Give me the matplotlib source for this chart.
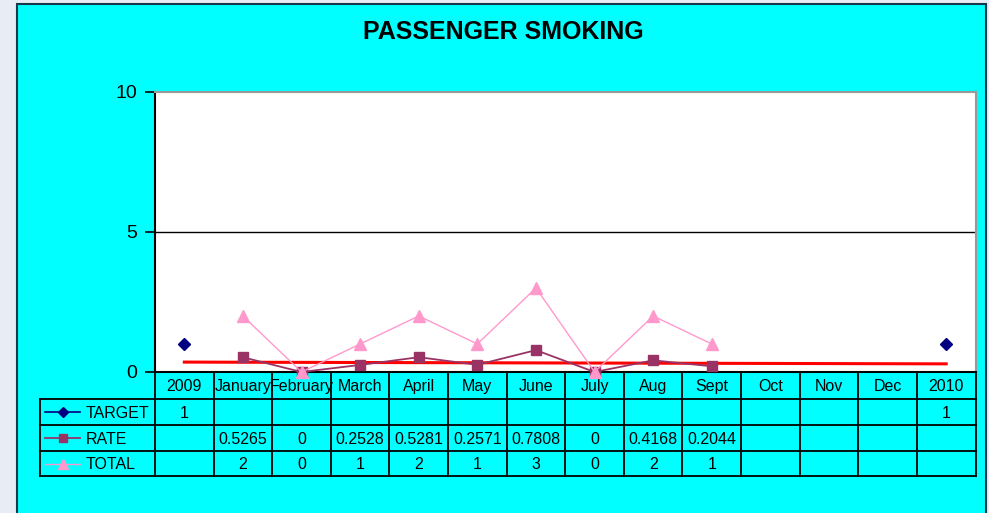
import matplotlib.pyplot as plt
from matplotlib.patches import Rectangle
import numpy as np

plt.rcParams['font.family'] = ['Liberation Sans', 'DejaVu Sans']

# data
columns = ['2009', 'January', 'February', 'March', 'April', 'May', 'June',
           'July', 'Aug', 'Sept', 'Oct', 'Nov', 'Dec', '2010']
target = [1, None, None, None, None, None, None, None, None, None, None, None, None, 1]
rate = [None, 0.5265, 0, 0.2528, 0.5281, 0.2571, 0.7808, 0, 0.4168, 0.2044,
        None, None, None, None]
total = [None, 2, 0, 1, 2, 1, 3, 0, 2, 1, None, None, None, None]
series_names = ['TARGET', 'RATE', 'TOTAL']
y_ticks = [0, 5, 10]

W, H = 989, 513
fig = plt.figure(figsize=(W / 100, H / 100), dpi=100)
fig.patch.set_facecolor('#e8ecf4')

# overlay in pixel coords for frame + table
bg = fig.add_axes([0, 0, 1, 1], zorder=0)
bg.set_xlim(0, W)
bg.set_ylim(H, 0)
bg.axis('off')
bg.add_patch(Rectangle((17, 4), 969, 530, facecolor='#00FFFF',
                       edgecolor='#17374a', lw=1.5))
bg.text(503, 32, 'PASSENGER SMOKING', ha='center', va='center',
        fontsize=18, fontweight='bold')

# plot area
x0, x1, ytop, ybot = 155, 975.5, 92, 372
ax = fig.add_axes([x0 / W, 1 - ybot / H, (x1 - x0) / W, (ybot - ytop) / H], zorder=1)
ax.set_facecolor('white')
ax.set_xlim(-0.5, len(columns) - 0.5)
ax.set_ylim(0, 10)
ax.set_xticks([])
ax.set_yticks(y_ticks)
ax.tick_params(axis='y', labelsize=14, length=7, width=1.2, pad=6)
for s in ['top', 'right']:
    ax.spines[s].set_color('#999999')
    ax.spines[s].set_linewidth(1.5)
for s in ['left', 'bottom']:
    ax.spines[s].set_color('black')
    ax.spines[s].set_linewidth(1.5)
ax.axhline(5, color='black', lw=1)

x = np.arange(len(columns))
def arr(v):
    return np.array([np.nan if a is None else a for a in v], dtype=float)

t, r, tot = arr(target), arr(rate), arr(total)

# linear trendline of RATE
ok = ~np.isnan(r)
k, b = np.polyfit(x[ok], r[ok], 1)
xt = np.array([x[0], x[-1]])
ax.plot(xt, k * xt + b, color='#FF0000', lw=2.2, zorder=2, clip_on=False)

styles = [
    dict(color='#000080', marker='D', ms=6, lw=1.2),
    dict(color='#993366', marker='s', ms=7, lw=1.3),
    dict(color='#FF99CC', marker='^', ms=8, lw=1.0),
]
for vals, st in zip([t, r, tot], styles):
    ax.plot(x, vals, zorder=3, clip_on=False, **st)

# data table
cw = (x1 - x0) / len(columns)
rows_y = [372, 399, 425, 451, 476]
lx = 40
lc = '#000000'
for i in range(len(columns) + 1):
    xx = x0 + i * cw
    bg.plot([xx, xx], [rows_y[0], rows_y[-1]], color=lc, lw=1.3)
bg.plot([lx, lx], [rows_y[1], rows_y[-1]], color=lc, lw=1.3)
for yy in rows_y[1:]:
    bg.plot([lx, x1], [yy, yy], color=lc, lw=1.3)

fs = 11.5
for i, c in enumerate(columns):
    bg.text(x0 + (i + 0.5) * cw, (rows_y[0] + rows_y[1]) / 2 + 1, c,
            ha='center', va='center', fontsize=fs)

for j, (name, vals, st) in enumerate(zip(series_names, [target, rate, total], styles)):
    yc = (rows_y[j + 1] + rows_y[j + 2]) / 2
    bg.plot([45, 80], [yc, yc], color=st['color'], lw=st['lw'])
    bg.plot([62.5], [yc], color=st['color'], marker=st['marker'], ms=st['ms'] - 1, ls='none')
    bg.text(86, yc + 1, name, ha='left', va='center', fontsize=fs)
    for i, v in enumerate(vals):
        if v is None:
            continue
        bg.text(x0 + (i + 0.5) * cw, yc + 1, f'{v:g}', ha='center', va='center', fontsize=fs)

fig.savefig('out.png', dpi=100, facecolor=fig.get_facecolor())
